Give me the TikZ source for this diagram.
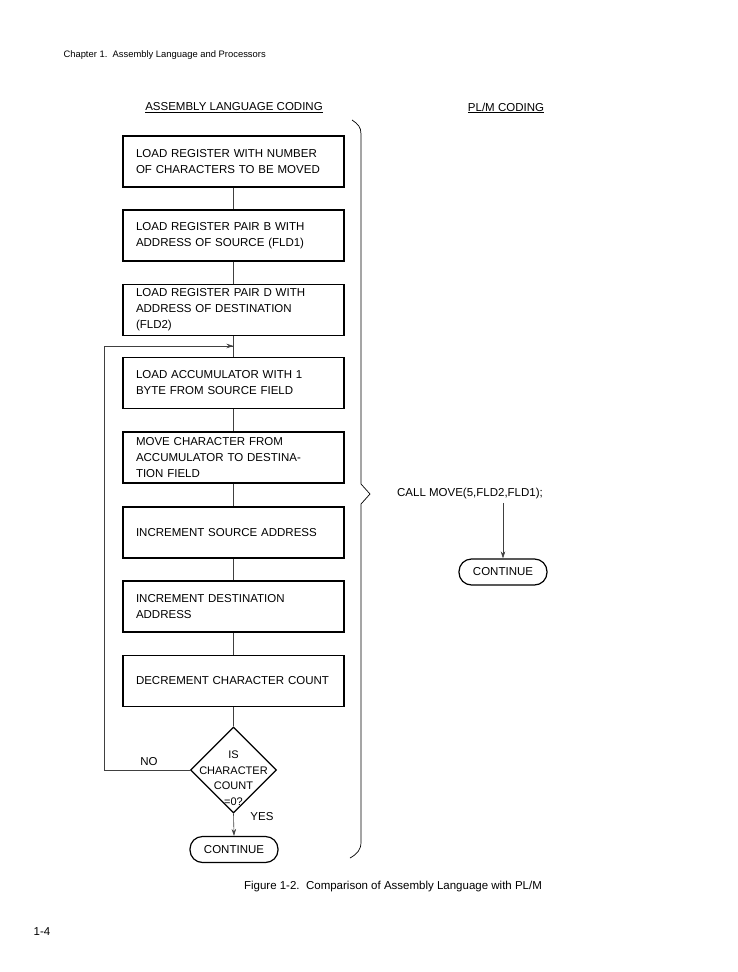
\documentclass[tikz,border=0pt]{standalone}
\usepackage{fontspec}
\setmainfont{Liberation Sans}
\usetikzlibrary{shapes.geometric,arrows.meta}
\begin{document}
\begin{tikzpicture}[x=1pt,y=-1pt,
  every node/.style={font=\fontsize{11.5}{16}\selectfont},
  stepbox/.style={draw,line width=1.2pt,minimum width=221pt,minimum height=51pt,text width=195pt,align=left,inner sep=0pt},
  term/.style={draw,line width=1.2pt,rounded corners=12.5pt,minimum width=88pt,minimum height=26pt,inner sep=0pt},
  dec/.style={draw,line width=1.2pt,diamond,minimum width=86pt,minimum height=86pt,inner sep=0pt},
  conn/.style={line width=0.6pt,draw=black!75},
  arr/.style={conn,-{Stealth[length=7pt,width=4.5pt]}}]
\useasboundingbox (0,0) rectangle (737,972);
\node[anchor=west,font=\fontsize{9.4}{11}\selectfont] (hdr) at (60,55) {Chapter 1.\ \ Assembly Language and Processors};
\node[font=\fontsize{11.5}{13}\selectfont] (h1) at (234,108) {\underline{ASSEMBLY LANGUAGE CODING}};
\node[font=\fontsize{11.5}{13}\selectfont] (h2) at (506,108) {\underline{PL/M CODING}};
\node (b1) [stepbox] at (233.5,161.5) {LOAD REGISTER WITH NUMBER\\OF CHARACTERS TO BE MOVED};
\node (b2) [stepbox] at (233.5,235.5) {LOAD REGISTER PAIR B WITH\\ADDRESS OF SOURCE (FLD1)};
\node (b3) [stepbox] at (233.5,310) {LOAD REGISTER PAIR D WITH\\ADDRESS OF DESTINATION\\(FLD2)};
\node (b4) [stepbox] at (233.5,383) {LOAD ACCUMULATOR WITH 1\\BYTE FROM SOURCE FIELD};
\node (b5) [stepbox] at (233.5,457.5) {MOVE CHARACTER FROM\\ACCUMULATOR TO DESTINA-\\TION FIELD};
\node (b6) [stepbox] at (233.5,532.5) {INCREMENT SOURCE ADDRESS};
\node (b7) [stepbox] at (233.5,606.5) {INCREMENT DESTINATION\\ADDRESS};
\node (b8) [stepbox] at (233.5,681) {DECREMENT CHARACTER COUNT};
\node (d) [dec] at (233.5,770) {};
\node (dt) at (233.5,778) [align=center,font=\fontsize{11}{15.5}\selectfont] {IS\\CHARACTER\\COUNT\\=0?};
\node (c1) [term] at (234,849.5) {CONTINUE};
\coordinate (m) at (233.5,346);
\coordinate (l1) at (104,770);
\coordinate (l2) at (104,346);
\draw[conn] (b1.south) -- (b2.north);
\draw[conn] (b2.south) -- (b3.north);
\draw[conn] (b3.south) -- (b4.north);
\draw[conn] (b4.south) -- (b5.north);
\draw[conn] (b5.south) -- (b6.north);
\draw[conn] (b6.south) -- (b7.north);
\draw[conn] (b7.south) -- (b8.north);
\draw[conn] (b8.south) -- (d.north);
\draw[conn] (d.west) -- (l1) -- (l2) -- (m);
\draw[arr] (l2) -- (m);
\node (no) at (149,762) {NO};
\draw[arr] (d.south) -- (c1.north);
\node (yes) at (262,817) {YES};
% brace
\draw[line width=0.7pt] (352,120) .. controls (358,124) and (361,127) .. (361,134) -- (361,484) -- (370,494) -- (361,504) -- (361,842) .. controls (361,850) and (357,854) .. (350,858);
\node (call) at (470,494) {CALL MOVE(5,FLD2,FLD1);};
\node (c2) [term] at (503,572) {CONTINUE};
\draw[arr] (call.south -| c2.north) -- (c2.north);
\node (cap) at (393,887) {Figure 1-2.\ \ Comparison of Assembly Language with PL/M};
\node (pg) at (42,932) {1-4};
\end{tikzpicture}
\end{document}
